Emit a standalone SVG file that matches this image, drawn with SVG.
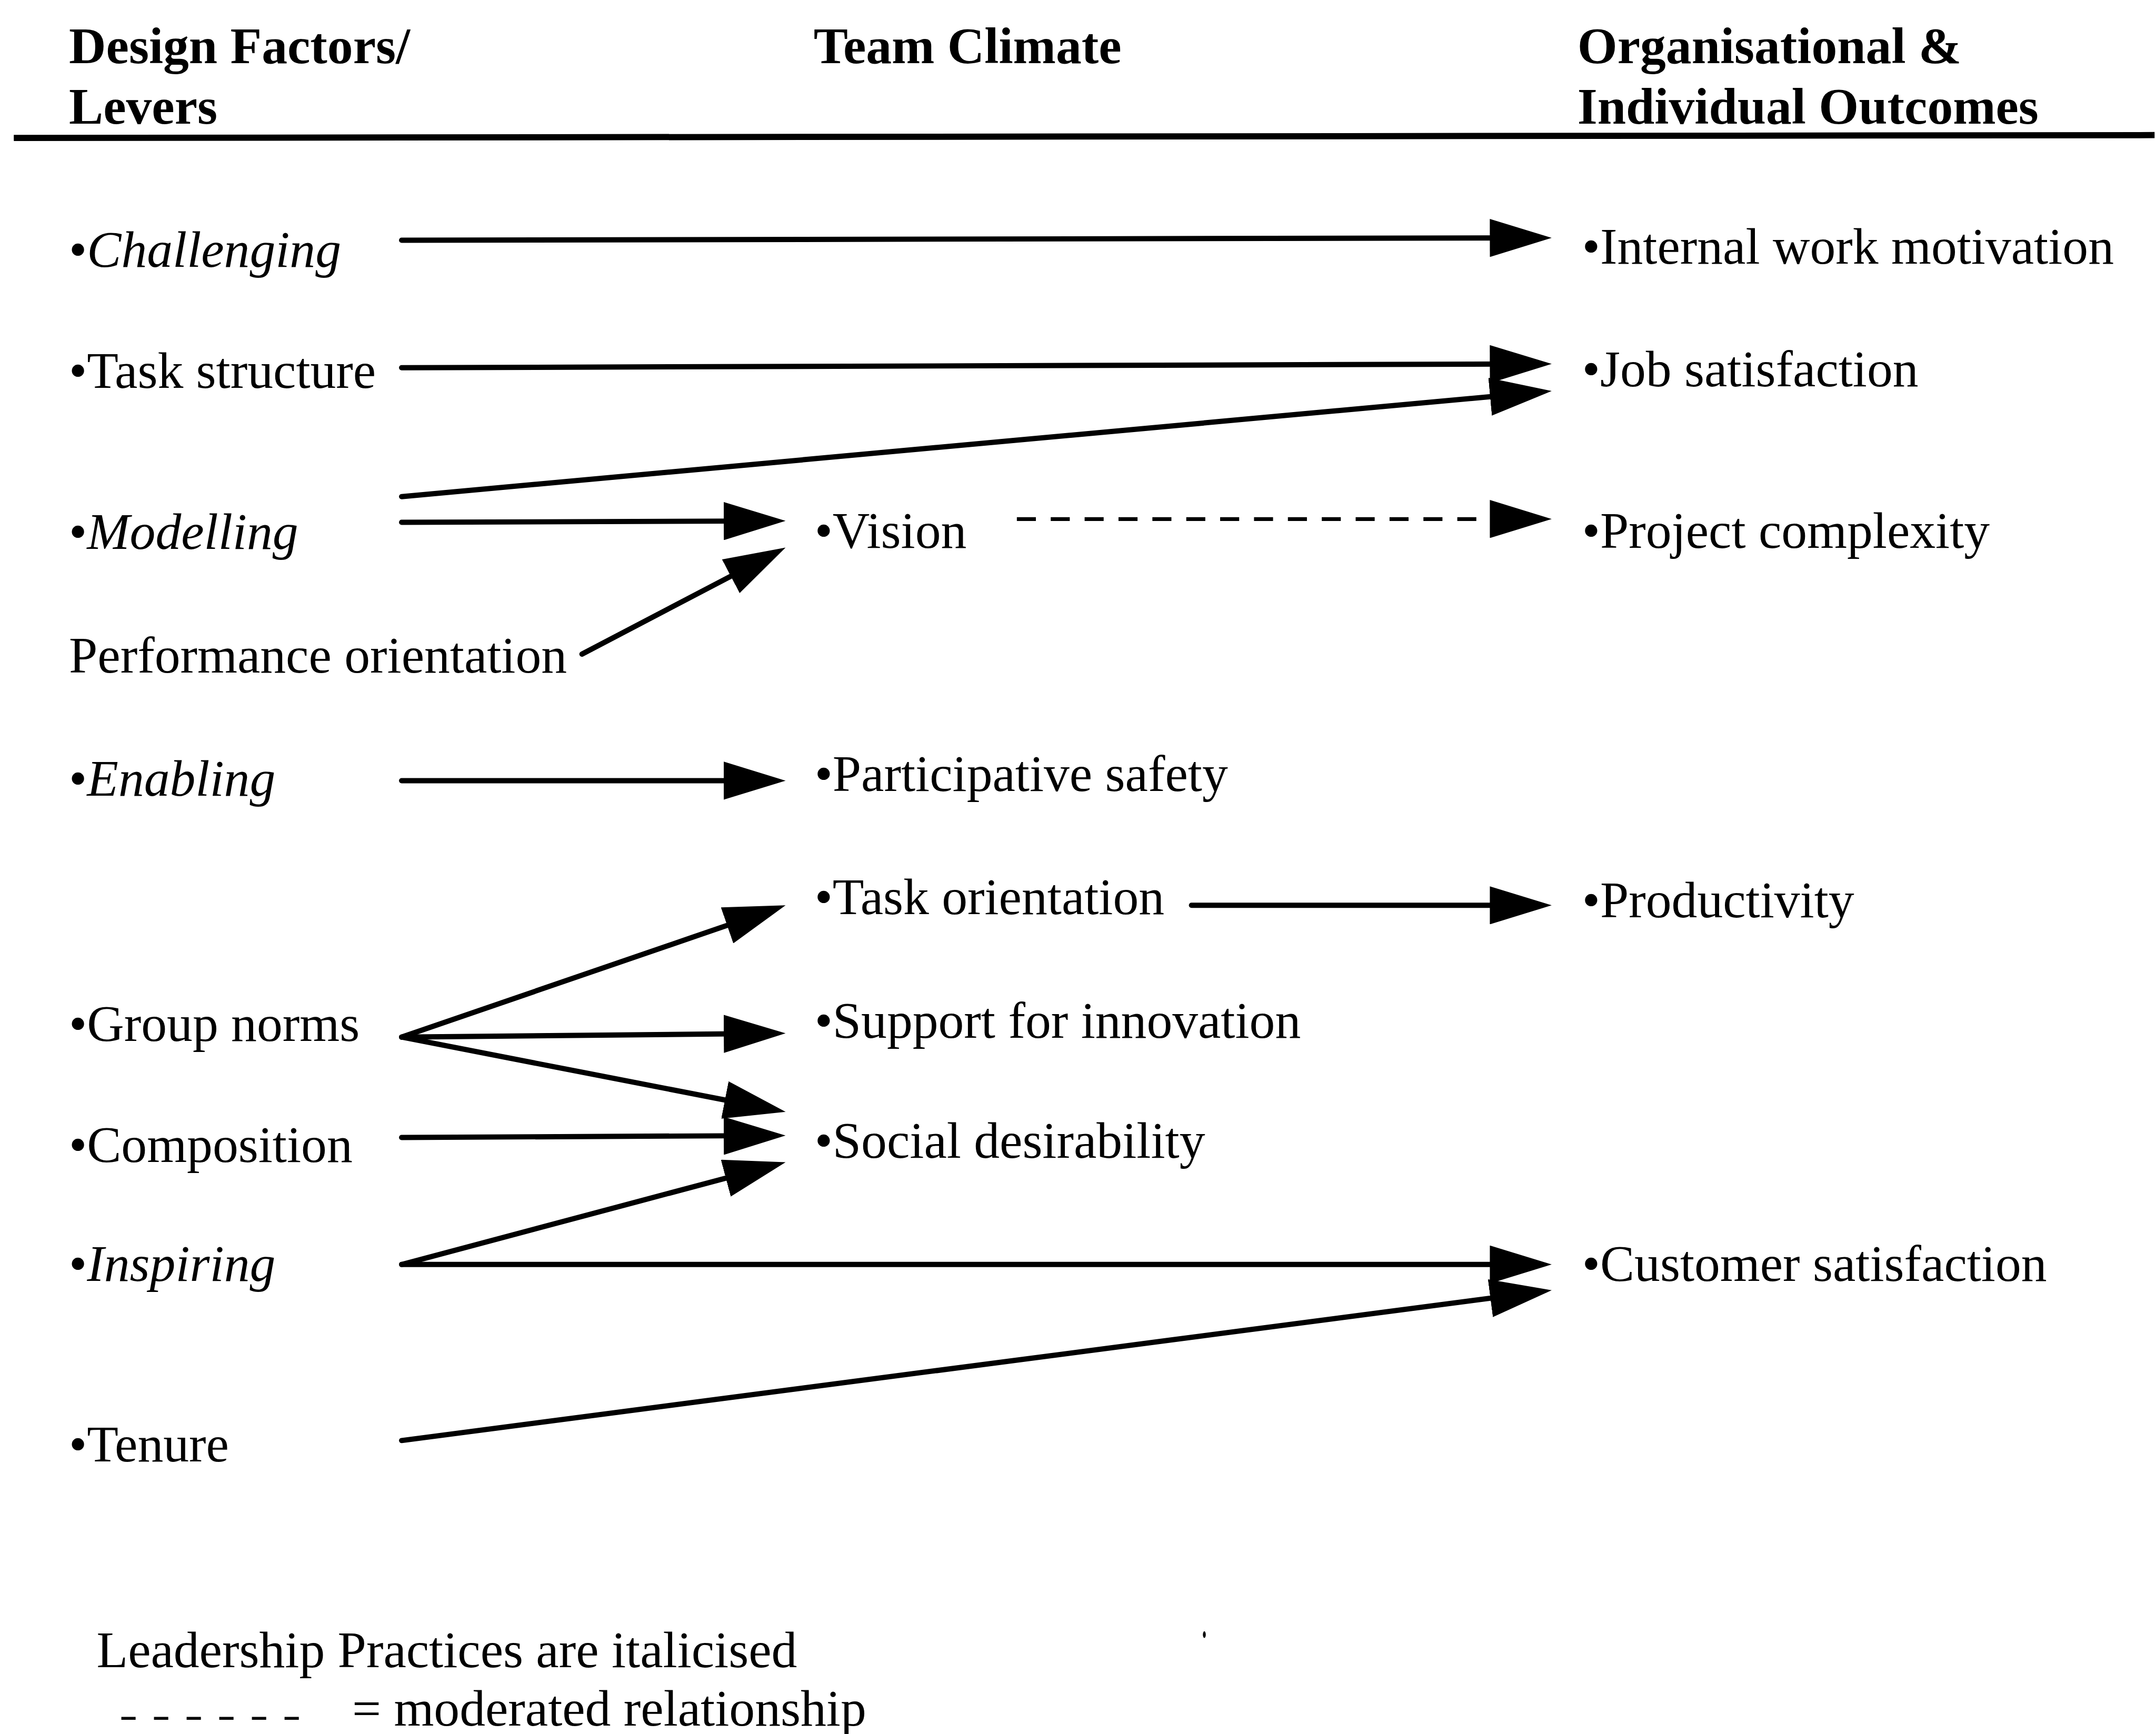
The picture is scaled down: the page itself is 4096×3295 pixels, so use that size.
<svg xmlns="http://www.w3.org/2000/svg" width="4096" height="3295" viewBox="0 0 4096 3295">
  <style>
    .h { font-family: "Liberation Serif", "Times New Roman", serif; font-size: 108px; font-weight: bold; fill: #000; }
    .t { font-family: "Liberation Serif", "Times New Roman", serif; font-size: 108px; fill: #000; }
    .it { font-style: italic; }
    .link { fill: none; stroke: #000; stroke-width: 11; stroke-linecap: round; }
    .dashed { fill: none; stroke: #000; stroke-width: 8; stroke-dasharray: 40 31.2; }
    .rule { stroke: #000; stroke-width: 13; }
  </style>
  <defs>
    <marker id="arrow" markerUnits="userSpaceOnUse" markerWidth="130" markerHeight="80" viewBox="0 0 130 80" refX="100" refY="40" orient="auto">
      <path d="M0,0 L130,40 L0,80 Z" fill="#000"/>
    </marker>
  </defs>
  <rect width="4096" height="3295" fill="#fff"/>
  <g transform="scale(0.904)">
    <!-- column headings -->
    <g id="headings">
      <text class="h" x="145" y="133">Design Factors/</text>
      <text class="h" x="145" y="260">Levers</text>
      <text class="h" x="1710" y="133">Team Climate</text>
      <text class="h" x="3315" y="133">Organisational &amp;</text>
      <text class="h" x="3315" y="260">Individual Outcomes</text>
      <line class="rule" x1="29" y1="290" x2="4528" y2="284"/>
    </g>

    <!-- design factors / levers -->
    <g id="challenging"><text class="t" x="145" y="561">•<tspan class="it">Challenging</tspan></text></g>
    <g id="task-structure"><text class="t" x="145" y="815">•Task structure</text></g>
    <g id="modelling"><text class="t" x="145" y="1154">•<tspan class="it">Modelling</tspan></text></g>
    <g id="performance-orientation"><text class="t" x="145" y="1414">Performance orientation</text></g>
    <g id="enabling"><text class="t" x="145" y="1673">•<tspan class="it">Enabling</tspan></text></g>
    <g id="group-norms"><text class="t" x="145" y="2188">•Group norms</text></g>
    <g id="composition"><text class="t" x="145" y="2443">•Composition</text></g>
    <g id="inspiring"><text class="t" x="145" y="2692">•<tspan class="it">Inspiring</tspan></text></g>
    <g id="tenure"><text class="t" x="145" y="3072">•Tenure</text></g>

    <!-- team climate -->
    <g id="vision"><text class="t" x="1712" y="1151">•Vision</text></g>
    <g id="participative-safety"><text class="t" x="1712" y="1663">•Participative safety</text></g>
    <g id="task-orientation"><text class="t" x="1712" y="1921">•Task orientation</text></g>
    <g id="support-for-innovation"><text class="t" x="1712" y="2181">•Support for innovation</text></g>
    <g id="social-desirability"><text class="t" x="1712" y="2434">•Social desirability</text></g>

    <!-- outcomes -->
    <g id="internal-work-motivation"><text class="t" x="3325" y="554">•Internal work motivation</text></g>
    <g id="job-satisfaction"><text class="t" x="3325" y="812">•Job satisfaction</text></g>
    <g id="project-complexity"><text class="t" x="3325" y="1151">•Project complexity</text></g>
    <g id="productivity"><text class="t" x="3325" y="1928">•Productivity</text></g>
    <g id="customer-satisfaction"><text class="t" x="3325" y="2692">•Customer satisfaction</text></g>

    <!-- relationships -->
    <g id="connectors">
      <path class="link" d="M844,505 L3231,500" marker-end="url(#arrow)"/>
      <path class="link" d="M844,773 L3231,765" marker-end="url(#arrow)"/>
      <path class="link" d="M844,1044 L3231.1,824.7" marker-end="url(#arrow)"/>
      <path class="link" d="M844,1098 L1621,1095" marker-end="url(#arrow)"/>
      <path class="link" d="M1223,1375 L1624.4,1164.9" marker-end="url(#arrow)"/>
      <path class="dashed" d="M2137,1091 L3103,1091"/>
      <path class="link" d="M3140,1091 L3231,1091" marker-end="url(#arrow)"/>
      <path class="link" d="M844,1641 L1621,1641" marker-end="url(#arrow)"/>
      <path class="link" d="M844,2180 L1622.6,1912.7" marker-end="url(#arrow)"/>
      <path class="link" d="M844,2180 L1621,2172.3" marker-end="url(#arrow)"/>
      <path class="link" d="M844,2180 L1621.6,2331.3" marker-end="url(#arrow)"/>
      <path class="link" d="M844,2391 L1621,2387" marker-end="url(#arrow)"/>
      <path class="link" d="M844,2658 L1622,2450.7" marker-end="url(#arrow)"/>
      <path class="link" d="M844,2658 L3231,2658" marker-end="url(#arrow)"/>
      <path class="link" d="M844,3028 L3231.3,2715.9" marker-end="url(#arrow)"/>
      <path class="link" d="M2504,1903 L3231,1903" marker-end="url(#arrow)"/>
    </g>

    <!-- key -->
    <g id="legend">
      <text class="t" x="203" y="3504">Leadership Practices are italicised</text>
      <line x1="255" y1="3612" x2="628" y2="3612" stroke="#000" stroke-width="6" stroke-dasharray="30 38.6"/>
      <text class="t" x="740" y="3627">= moderated relationship</text>
    </g>
    <ellipse cx="2531" cy="3436" rx="3" ry="7" fill="#000"/>
  </g>
</svg>
